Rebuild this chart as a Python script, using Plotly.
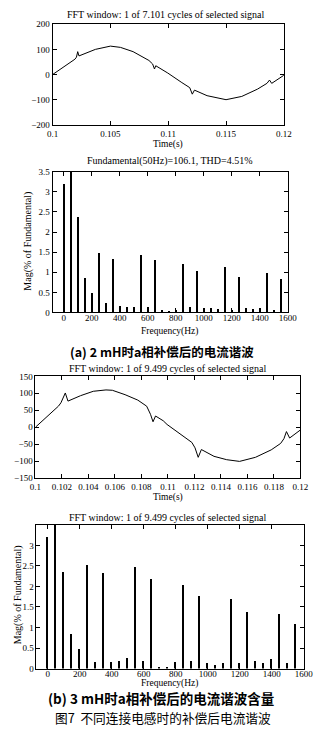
import plotly.graph_objects as go

W, H = 330, 736

# ---- waveform (a): 2 mH, time in seconds, current in A ----
wave_a_t = [0.10000, 0.10100, 0.10193, 0.10206, 0.10217, 0.10228, 0.10288, 0.10370,
            0.10500, 0.10587, 0.10696, 0.10833, 0.10865, 0.10881, 0.10892, 0.10955,
            0.10996, 0.11118, 0.11186, 0.11208, 0.11227, 0.11336, 0.11500, 0.11636,
            0.11772, 0.11854, 0.11876, 0.11895, 0.11963, 0.12000]
wave_a_v = [0, 32, 61, 69, 91, 74, 84, 100,
            113, 108, 91, 56, 42, 22, 35, 19,
            6, -32, -52, -78, -62, -84, -100, -87,
            -58, -35, -22, -35, -13, -3]

# ---- waveform (b): 3 mH ----
wave_b_t = [0.10000, 0.10086, 0.10173, 0.10192, 0.10225, 0.10245, 0.10340, 0.10436,
            0.10532, 0.10580, 0.10676, 0.10772, 0.10839, 0.10868, 0.10887, 0.10906,
            0.10964, 0.10993, 0.11180, 0.11204, 0.11228, 0.11252, 0.11347, 0.11443,
            0.11540, 0.11660, 0.11779, 0.11850, 0.11875, 0.11894, 0.11918, 0.12000]
wave_b_v = [0, 31, 62, 72, 101, 77, 93, 106,
            110, 109, 96, 80, 62, 38, 16, 33,
            19, 8, -45, -61, -89, -66, -86, -96,
            -101, -89, -67, -48, -34, -13, -32, -8]

# ---- harmonic spectra (% of fundamental) ----
freq_hz = [0, 50, 100, 150, 200, 250, 300, 350, 400, 450, 500, 550, 600, 650, 700, 750,
           800, 850, 900, 950, 1000, 1050, 1100, 1150, 1200, 1250, 1300, 1350, 1400,
           1450, 1500, 1550]
mag_a = [3.21, 100, 2.38, 0.87, 0.49, 1.49, 0.245, 1.33, 0.16, 0.15, 0.14, 1.43, 0.14,
         1.31, 0.065, 0.04, 0.065, 1.22, 0.14, 1.04, 0.11, 0.11, 0.10, 1.13, 0.06,
         0.90, 0.11, 0.09, 0.12, 1.00, 0.065, 0.84]
mag_b = [3.21, 100, 2.36, 0.84, 0.48, 2.53, 0.16, 2.32, 0.16, 0.19, 0.26, 2.47, 0.20,
         2.19, 0.02, 0.05, 0.16, 2.04, 0.20, 1.78, 0.15, 0.10, 0.14, 1.70, 0.14,
         1.37, 0.18, 0.15, 0.23, 1.34, 0.15, 1.10]

time_ticks_a = [0.1, 0.105, 0.11, 0.115, 0.12]
time_labels_a = ["0.1", "0.105", "0.11", "0.115", "0.12"]
time_ticks_b = [0.1, 0.102, 0.104, 0.106, 0.108, 0.11, 0.112, 0.114, 0.116, 0.118, 0.12]
time_labels_b = ["0.1", "0.102", "0.104", "0.106", "0.108", "0.11", "0.112", "0.114",
                 "0.116", "0.118", "0.12"]
freq_ticks = [0, 200, 400, 600, 800, 1000, 1200, 1400, 1600]
mag_ticks_a = [0, 0.5, 1, 1.5, 2, 2.5, 3, 3.5]
mag_ticks_b = [0, 0.5, 1, 1.5, 2, 2.5, 3]

SERIF = "Liberation Serif, Times New Roman, serif"
CJK = "Noto Sans CJK SC"
TICK_SIZE = 9


def px_x(p):
    return p / W


def px_y(p):
    return 1 - p / H


def common_axis():
    return dict(
        showline=True, linecolor="black", linewidth=1, mirror="ticks",
        ticks="inside", ticklen=4, tickwidth=1, tickcolor="black",
        showgrid=False, zeroline=False,
        tickfont=dict(family=SERIF, size=TICK_SIZE, color="black"),
    )


def xaxis(left_px, right_px, extra):
    base = common_axis()
    base["domain"] = [px_x(left_px), px_x(right_px)]
    base.update(extra)
    return base


def yaxis(top_px, bottom_px, extra):
    base = common_axis()
    base["domain"] = [px_y(bottom_px), px_y(top_px)]
    base.update(extra)
    return base


fig = go.Figure()

fig.add_trace(go.Scatter(x=wave_a_t, y=wave_a_v, mode="lines",
                         line=dict(color="black", width=1), xaxis="x", yaxis="y"))
fig.add_trace(go.Bar(x=freq_hz, y=mag_a, width=17, marker=dict(color="black", line=dict(width=0)),
                     xaxis="x2", yaxis="y2"))
fig.add_trace(go.Scatter(x=wave_b_t, y=wave_b_v, mode="lines",
                         line=dict(color="black", width=1), xaxis="x3", yaxis="y3"))
fig.add_trace(go.Bar(x=freq_hz, y=mag_b, width=11, marker=dict(color="black", line=dict(width=0)),
                     xaxis="x4", yaxis="y4"))

layout = dict(
    width=W, height=H, margin=dict(l=0, r=0, t=0, b=0),
    paper_bgcolor="white", plot_bgcolor="white", showlegend=False,
    bargap=0,
    xaxis=xaxis(49, 292, dict(anchor="y", range=[0.1, 0.12], tickvals=time_ticks_a,
                              ticktext=time_labels_a)),
    yaxis=yaxis(19.5, 121.5, dict(anchor="x", range=[-200, 200],
                                  tickvals=[-200, -100, 0, 100, 200])),
    xaxis2=xaxis(49, 296, dict(anchor="y2", range=[-80, 1600], tickvals=freq_ticks,
                               ticklabelstandoff=-3)),
    yaxis2=yaxis(169, 311.7, dict(anchor="x2", range=[0, 3.5], tickvals=mag_ticks_a)),
    xaxis3=xaxis(31, 309.5, dict(anchor="y3", range=[0.1, 0.12], tickvals=time_ticks_b,
                                 ticktext=time_labels_b)),
    yaxis3=yaxis(376.5, 479.5, dict(anchor="x3", range=[-150, 150],
                                    tickvals=[-150, -100, -50, 0, 50, 100, 150])),
    xaxis4=xaxis(32, 313, dict(anchor="y4", range=[-70, 1600], tickvals=freq_ticks,
                               ticklabelstandoff=-3)),
    yaxis4=yaxis(527, 672.7, dict(anchor="x4", range=[0, 3.5], tickvals=mag_ticks_b)),
)


def label(text, x, y, size, family=SERIF, angle=0, weight=None):
    font = dict(family=family, size=size, color="black")
    if weight:
        font["weight"] = weight
    return dict(text=text, x=px_x(x), y=px_y(y), xref="paper", yref="paper",
                showarrow=False, xanchor="center", yanchor="middle",
                textangle=angle, font=font)


annotations = [
    label("FFT window: 1 of 7.101 cycles of selected signal", 168, 10, 10),
    label("Time(s)", 170, 141.5, 9.5),
    label("Fundamental(50Hz)=106.1, THD=4.51%", 172, 158, 10),
    label("Mag(% of Fundamental)", 23, 239, 10, angle=-90),
    label("Frequency(Hz)", 172, 331.5, 9.5),
    label("(a) 2 mH时a相补偿后的电流谐波", 164, 351, 12.5, family=CJK, weight="bold"),
    label("FFT window: 1 of 9.499 cycles of selected signal", 170, 369, 10),
    label("Time(s)", 170, 499.5, 9.5),
    label("FFT window: 1 of 9.499 cycles of selected signal", 170, 520, 10),
    label("Mag(% of Fundamental)", 13, 598, 10, angle=-90),
    label("Frequency(Hz)", 172, 688, 9.5),
    label("(b) 3 mH时a相补偿后的电流谐波含量", 163, 703, 13.5, family=CJK, weight="bold"),
    label("图7  不同连接电感时的补偿后电流谐波", 165, 722, 12.7, family=CJK),
]
layout["annotations"] = annotations

fig.update_layout(**layout)
fig.write_html("out.html")
